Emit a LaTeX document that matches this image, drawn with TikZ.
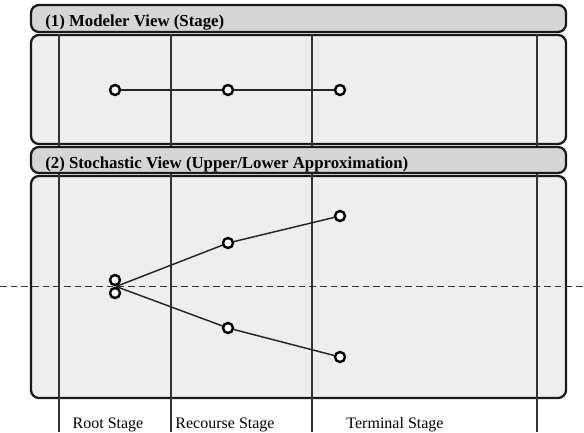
\documentclass[tikz,border=0pt]{standalone}
\usepackage{fontspec}
\setmainfont{Liberation Serif}
\usepackage{xcolor}
\definecolor{headgray}{RGB}{214,214,214}
\definecolor{bodygray}{RGB}{238,238,238}

\begin{document}
\begin{tikzpicture}[x=0.75pt,y=-0.75pt,
    panel/.style={draw=black!90, line width=1.7pt, rounded corners=6pt},
    stagenode/.style={circle, draw=black, fill=white, line width=1.8pt, minimum size=7.5pt, inner sep=0pt},
    link/.style={draw=black!85, line width=1.1pt},
    stageline/.style={draw=black!80, line width=0.8pt},
    headtext/.style={anchor=base west, inner sep=0pt, font=\bfseries\fontsize{12.6}{14}\selectfont},
    labeltext/.style={anchor=base, inner sep=0pt, font=\fontsize{12}{14}\selectfont}]
\useasboundingbox (0,0) rectangle (584,432);
% panel bodies
\filldraw[panel, fill=bodygray] (31,35) rectangle (566,144);
\filldraw[panel, fill=bodygray] (31,176) rectangle (566,398);
% stage borders
\foreach \x in {59,171,312,537}
  \draw[stageline] (\x,34) -- (\x,432);
% panel headers
\filldraw[panel, fill=headgray] (31,5) rectangle (566,32);
\filldraw[panel, fill=headgray] (31,147) rectangle (566,173);
\node[headtext] (head1) at (45,26) {(1) Modeler View (Stage)};
\node[headtext] (head2) at (45,168) {(2) Stochastic View (Upper/Lower Approximation)};

% cut line
\coordinate (cutL) at (0,286.5);
\coordinate (cutR) at (584,286.5);
\draw[draw=black!80, line width=0.7pt, dash pattern=on 5pt off 3pt] (cutL) -- (cutR);

% modeler view
\node[stagenode] (m1) at (115,90) {};
\node[stagenode] (m2) at (228,90) {};
\node[stagenode] (m3) at (340,90) {};
\draw[link] (m1) -- (m2);
\draw[link] (m2) -- (m3);

% stochastic view
\coordinate (root) at (116,286.5);
\coordinate (upR) at (228,243);
\coordinate (loR) at (228,328);
\draw[link] (root) -- (upR);
\draw[link] (root) -- (loR);
\node[stagenode] (upRoot) at (115,280) {};
\node[stagenode] (loRoot) at (115,293) {};
\node[stagenode] (upRec) at (upR) {};
\node[stagenode] (loRec) at (loR) {};
\node[stagenode] (upTerm) at (340,216) {};
\node[stagenode] (loTerm) at (340,357) {};
\draw[link] (upRec) -- (upTerm);
\draw[link] (loRec) -- (loTerm);

% stage labels
\node[labeltext] (lab1) at (108,428) {Root Stage};
\node[labeltext] (lab2) at (225,428) {Recourse Stage};
\node[labeltext] (lab3) at (395,428) {Terminal Stage};
\end{tikzpicture}
\end{document}
